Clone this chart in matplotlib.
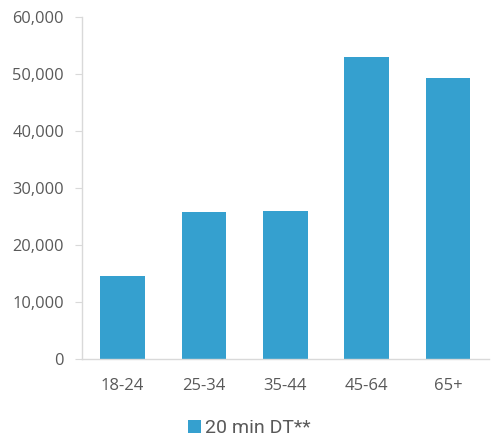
import matplotlib
matplotlib.use("Agg")
import matplotlib.pyplot as plt
from matplotlib.ticker import FuncFormatter

categories = ["18-24", "25-34", "35-44", "45-64", "65+"]
values = [14500, 25800, 25850, 52900, 49200]
series_name = "20 min DT**"
yticks = [0, 10000, 20000, 30000, 40000, 50000, 60000]

bar_color = "#35A0CF"
text_color = "#595959"
spine_color = "#D9D9D9"

fig = plt.figure(figsize=(4.94, 4.37), dpi=100)
ax = fig.add_axes([82/494, 1-358.7/437, (488.7-82)/494, (358.7-16.7)/437])

ax.bar(range(len(categories)), values, width=0.55, color=bar_color, label=series_name, zorder=2)
ax.set_xlim(-0.5, len(categories)-0.5)
ax.set_ylim(0, 60000)
ax.set_yticks(yticks)
ax.yaxis.set_major_formatter(FuncFormatter(lambda v, p: f"{int(v):,}"))
ax.set_xticks(range(len(categories)))
ax.set_xticklabels(categories)

for s in ["top", "right"]:
    ax.spines[s].set_visible(False)
for s in ["left", "bottom"]:
    ax.spines[s].set_color(spine_color)
    ax.spines[s].set_linewidth(1.0)

ax.tick_params(axis="y", length=5, color=spine_color, pad=8, labelsize=11.8, labelcolor=text_color)
ax.tick_params(axis="x", length=0, pad=14, labelsize=12, labelcolor=text_color)
for lab in ax.get_xticklabels() + ax.get_yticklabels():
    lab.set_fontfamily("Open Sans")

leg = fig.legend(loc="lower center", bbox_to_anchor=(0.505, -0.04), frameon=False,
                 handlelength=0.65, handleheight=0.65, handletextpad=0.2,
                 prop={"family": "Roboto", "size": 14})
for t in leg.get_texts():
    t.set_color(text_color)

fig.savefig("out.png", dpi=100)
